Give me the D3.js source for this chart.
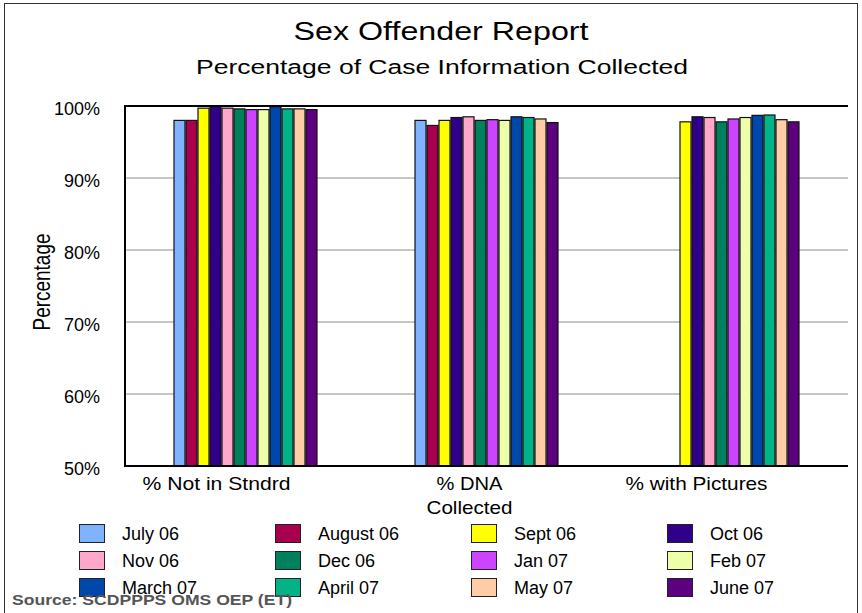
<!DOCTYPE html>
<html>
<head>
<meta charset="utf-8">
<script src="https://cdn.jsdelivr.net/npm/d3@7"></script>
<style>
  html, body { margin: 0; padding: 0; background: #fff; }
  svg { display: block; font-family: "Liberation Sans", Arial, sans-serif; }
</style>
</head>
<body>
<svg id="chart" width="862" height="613"></svg>
<script>
// ---- data ----
const categories = ["% Not in Stndrd", "% DNA Collected", "% with Pictures"];
const categoryLines = [["% Not in Stndrd"], ["% DNA", "Collected"], ["% with Pictures"]];
const seriesNames = ["July 06", "August 06", "Sept 06", "Oct 06", "Nov 06", "Dec 06",
                     "Jan 07", "Feb 07", "March 07", "April 07", "May 07", "June 07"];
const notInStndrd  = [98.0, 98.0, 99.7, 100.0, 99.7, 99.6, 99.5, 99.5, 99.9, 99.6, 99.6, 99.5];
const dnaCollected = [98.0, 97.3, 98.0, 98.4, 98.5, 98.0, 98.1, 98.0, 98.5, 98.4, 98.2, 97.7];
const withPictures = [null, null, 97.8, 98.5, 98.4, 97.8, 98.2, 98.4, 98.7, 98.75, 98.1, 97.8];
const tickValues = [50, 60, 70, 80, 90, 100];
const tickLabels = ["50%", "60%", "70%", "80%", "90%", "100%"];
const colors = ["#80b3ff", "#a8004f", "#ffff00", "#300088", "#ffa8cc", "#00805c",
                "#cc44ff", "#eeffaa", "#0047ab", "#00b388", "#ffcca8", "#5c0080"];

const valuesByCategory = [notInStndrd, dnaCollected, withPictures];
const table = categories.map((c, i) => ({
  category: c,
  values: seriesNames.map((s, j) => ({ series: s, value: valuesByCategory[i][j] }))
}));

// ---- layout ----
const svg = d3.select("#chart");
const plot = { left: 125, right: 848, top: 106, bottom: 466 };

svg.append("rect")
  .attr("x", 4.5).attr("y", 3.5).attr("width", 853).attr("height", 700)
  .attr("fill", "none").attr("stroke", "#333").attr("stroke-width", 1);

const y = d3.scaleLinear().domain([50, 100]).range([plot.bottom, plot.top]);
const x0 = d3.scaleBand().domain(categories).range([plot.left, plot.right])
  .paddingInner(0.4025).paddingOuter(0.20125);
const x1 = d3.scaleBand().domain(seriesNames).range([0, x0.bandwidth()]);
const color = d3.scaleOrdinal().domain(seriesNames).range(colors);

// gridlines
svg.append("g").selectAll("line")
  .data(tickValues.filter(v => v !== 50 && v !== 100))
  .join("line")
  .attr("x1", plot.left).attr("x2", plot.right)
  .attr("y1", d => y(d)).attr("y2", d => y(d))
  .attr("stroke", "#8c8c8c").attr("stroke-width", 1);

// bars
const groups = svg.append("g").selectAll("g")
  .data(table).join("g")
  .attr("transform", d => `translate(${x0(d.category)},0)`);
groups.selectAll("rect")
  .data(d => d.values.filter(v => v.value != null))
  .join("rect")
  .attr("x", d => x1(d.series) + 0.5)
  .attr("width", x1.bandwidth() - 1)
  .attr("y", d => y(d.value))
  .attr("height", d => y(50) - y(d.value))
  .attr("fill", d => color(d.series))
  .attr("stroke", "#111").attr("stroke-width", 1.2);

// axis frame lines
svg.append("line").attr("x1", plot.left).attr("x2", plot.right)
  .attr("y1", plot.top).attr("y2", plot.top).attr("stroke", "#000").attr("stroke-width", 2);
svg.append("line").attr("x1", plot.left).attr("x2", plot.right)
  .attr("y1", plot.bottom).attr("y2", plot.bottom).attr("stroke", "#000").attr("stroke-width", 2);
svg.append("line").attr("x1", plot.left).attr("x2", plot.left)
  .attr("y1", plot.top - 1).attr("y2", plot.bottom + 1).attr("stroke", "#000").attr("stroke-width", 2);

// y axis labels
const yAxis = d3.axisLeft(y).tickValues(tickValues)
  .tickFormat((d, i) => tickLabels[i]).tickSize(0).tickPadding(25);
const yg = svg.append("g").attr("transform", `translate(${plot.left},0)`).call(yAxis);
yg.select(".domain").remove();
yg.selectAll("text")
  .attr("font-family", "'Liberation Sans', Arial, sans-serif")
  .attr("font-size", 18).attr("fill", "#000").attr("dy", "0.45em");

// y axis title
svg.append("text")
  .attr("transform", "translate(50,282) rotate(-90)")
  .attr("text-anchor", "middle")
  .attr("font-size", 23)
  .attr("textLength", 97).attr("lengthAdjust", "spacingAndGlyphs")
  .text("Percentage");

// category labels
const labelOffsets = [-29, -17, -31];
const labelWidths = [[148], [66, 86], [142]];
categories.forEach((c, i) => {
  const cx = x0(c) + x0.bandwidth() / 2 + labelOffsets[i];
  categoryLines[i].forEach((line, k) => {
    svg.append("text")
      .attr("x", cx).attr("y", 490 + k * 24)
      .attr("text-anchor", "middle")
      .attr("font-size", 19)
      .attr("textLength", labelWidths[i][k]).attr("lengthAdjust", "spacingAndGlyphs")
      .text(line);
  });
});

// titles
svg.append("text").attr("x", 441).attr("y", 40).attr("text-anchor", "middle")
  .attr("font-size", 25).attr("textLength", 295).attr("lengthAdjust", "spacingAndGlyphs")
  .text("Sex Offender Report");
svg.append("text").attr("x", 442).attr("y", 74).attr("text-anchor", "middle")
  .attr("font-size", 20).attr("textLength", 492).attr("lengthAdjust", "spacingAndGlyphs")
  .text("Percentage of Case Information Collected");

// legend (4 columns x 3 rows, row-major)
const legendCols = [79, 275, 471, 667];
const legendRows = [524, 551, 578];
const legend = svg.append("g");
seriesNames.forEach((s, i) => {
  const cx = legendCols[i % 4], ry = legendRows[Math.floor(i / 4)];
  legend.append("rect").attr("x", cx + 0.5).attr("y", ry + 0.5)
    .attr("width", 25).attr("height", 18)
    .attr("fill", color(s)).attr("stroke", "#222").attr("stroke-width", 1);
  legend.append("text").attr("x", cx + 43).attr("y", ry + 16)
    .attr("font-size", 18).attr("fill", "#000").text(s);
});

// source note
svg.append("text").attr("x", 12).attr("y", 605)
  .attr("font-size", 15).attr("font-weight", "bold").attr("fill", "#555")
  .attr("textLength", 280).attr("lengthAdjust", "spacingAndGlyphs")
  .text("Source: SCDPPPS OMS OEP (ET)");
</script>
</body>
</html>
